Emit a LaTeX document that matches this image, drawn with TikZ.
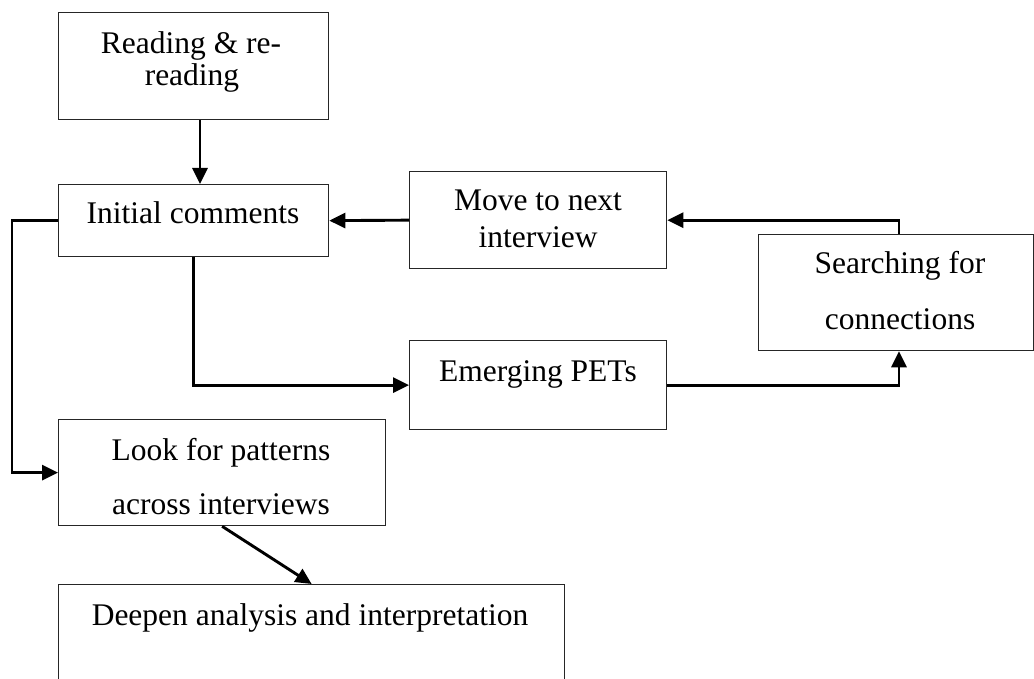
\documentclass[tikz,border=0pt]{standalone}
\usepackage{fontspec}
\setmainfont{Liberation Serif}
\usetikzlibrary{arrows.meta,calc}
\begin{document}
\begin{tikzpicture}[x=1pt,y=-1pt,
  box/.style={draw=black!85,line width=1.3pt,inner sep=0pt,anchor=north west},
  arr/.style={line width=2.9pt,-{Triangle[length=16pt,width=15pt]}},
  txt/.style={anchor=base,inner sep=0pt,font=\fontsize{31.5}{36}\selectfont}]
\clip (0,0) rectangle (1034,679);
\fill[white] (0,0) rectangle (1034,679);
% boxes
\node[box,minimum width=270pt,minimum height=107pt] (read) at (58,12) {};
\node[box,minimum width=270pt,minimum height=72pt] (init) at (58,184) {};
\node[box,minimum width=257pt,minimum height=97pt] (move) at (409,171) {};
\node[box,minimum width=275pt,minimum height=116pt] (search) at (758,234) {};
\node[box,minimum width=257pt,minimum height=89pt] (emerg) at (409,340) {};
\node[box,minimum width=327pt,minimum height=106pt] (look) at (58,419) {};
\node[box,minimum width=506pt,minimum height=130pt] (deep) at (58,584) {};
% texts
\node[txt] (t1) at (191,54) {Reading \& re-};
\node[txt] (t2) at (192,86) {reading};
\node[txt] (t3) at (193,224) {Initial comments};
\node[txt] (t4) at (538,211) {Move to next};
\node[txt] (t5) at (538,248) {interview};
\node[txt] (t6) at (538,381) {Emerging PETs};
\node[txt] (t7) at (900,274) {Searching for};
\node[txt] (t8) at (900,329) {connections};
\node[txt] (t9) at (221,460) {Look for patterns};
\node[txt] (t10) at (221,514) {across interviews};
\node[txt] (t11) at (310,625) {Deepen analysis and interpretation};
% helper coordinates
\coordinate (xa) at (200,0);
\coordinate (xs) at (899,0);
\coordinate (xl) at (12,0);
% connectors
\draw[arr] (xa |- read.south) -- (xa |- init.north);
\draw[arr] (move.west) -- (init.east);
\draw[arr] (xs |- search.north) |- (move.east);
\draw[arr] (emerg.east) -| (xs |- search.south);
\draw[arr] (init.south) |- (emerg.west);
\draw[arr] (init.west) -- (xl |- init.west) |- (look.west);
\draw[arr] (look.south) -- (deep.north);
\end{tikzpicture}
\end{document}
